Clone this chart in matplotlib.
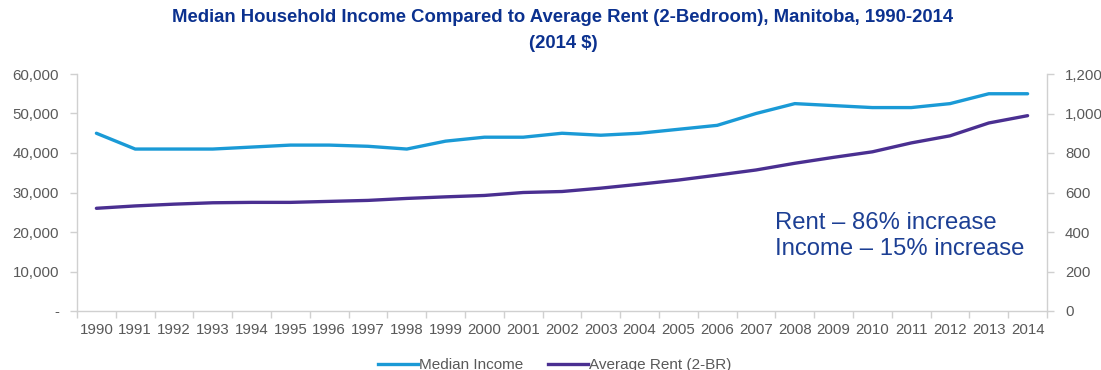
import matplotlib
matplotlib.use("Agg")
import matplotlib.pyplot as plt
from matplotlib.ticker import FuncFormatter, FixedLocator
from matplotlib.lines import Line2D

years = list(range(1990, 2015))
median_income = [45000, 41000, 41000, 41000, 41500, 42000, 42000, 41700, 41000, 43000,
                 44000, 44000, 45000, 44500, 45000, 46000, 47000, 50000, 52500, 52000,
                 51500, 51500, 52500, 55000, 55000]
avg_rent = [520, 532, 541, 548, 550, 550, 555, 560, 570, 578,
            585, 600, 605, 622, 642, 663, 688, 714, 748, 778,
            806, 851, 887, 952, 989]

title_l1 = "Median Household Income Compared to Average Rent (2-Bedroom), Manitoba, 1990-2014"
title_l2 = "(2014 $)"
note_l1 = "Rent \u2013 86% increase"
note_l2 = "Income \u2013 15% increase"

plt.rcParams['font.family'] = ['Liberation Sans', 'DejaVu Sans']

c_inc = '#1a9ad6'
c_rent = '#4a2f91'
c_title = '#0b318f'
c_tick = '#595959'
c_axis = '#d0d0d0'

fig = plt.figure(figsize=(11.01, 3.70), dpi=100)
ax = fig.add_axes([77/1101, 59/370, (1047-77)/1101, (311-74)/370])
ax2 = ax.twinx()

x = list(range(len(years)))
ax.plot(x, median_income, color=c_inc, lw=2.4, solid_capstyle='round', zorder=3)
ax2.plot(x, avg_rent, color=c_rent, lw=2.4, solid_capstyle='round', zorder=3)

ax.set_xlim(-0.5, len(years) - 0.5)
ax.set_ylim(0, 60000)
ax2.set_ylim(0, 1200)
ax.set_yticks(range(0, 60001, 10000))
ax2.set_yticks(range(0, 1201, 200))
ax.yaxis.set_major_formatter(FuncFormatter(lambda v, p: '-' if v == 0 else f'{int(v):,}'))
ax2.yaxis.set_major_formatter(FuncFormatter(lambda v, p: f'{int(v):,}'))

ax.xaxis.set_major_locator(FixedLocator([i - 0.5 for i in range(len(years) + 1)]))
ax.xaxis.set_minor_locator(FixedLocator(x))
ax.set_xticklabels([])
ax.set_xticklabels([str(y) for y in years], minor=True)
ax.tick_params(axis='x', which='major', length=5, color=c_axis, width=1)
ax.tick_params(axis='x', which='minor', length=0, pad=9, labelsize=10.8, labelcolor=c_tick)
ax.tick_params(axis='y', length=5, color=c_axis, width=1, labelsize=10.8, labelcolor=c_tick, pad=8)
ax2.tick_params(axis='y', length=5, color=c_axis, width=1, labelsize=10.8, labelcolor=c_tick, pad=8)

for a in (ax, ax2):
    a.spines['top'].set_visible(False)
    for s in ('left', 'right', 'bottom'):
        a.spines[s].set_color(c_axis)
        a.spines[s].set_linewidth(1)
ax.spines['right'].set_visible(False)
ax2.spines['left'].set_visible(False)
ax2.spines['bottom'].set_visible(False)

fig.text(563/1101, 1 - 17/370, title_l1, ha='center', va='center', fontsize=13.3,
         fontweight='bold', color=c_title)
fig.text(563/1101, 1 - 43/370, title_l2, ha='center', va='center', fontsize=13.3,
         fontweight='bold', color=c_title)

ax.text(0.7196, 0.316, note_l1 + "\n" + note_l2, transform=ax.transAxes, ha='left', va='center',
        fontsize=17.2, color='#1c3f94', linespacing=1.2)

handles = [Line2D([], [], color=c_inc, lw=2.4), Line2D([], [], color=c_rent, lw=2.4)]
fig.legend(handles, ['Median Income', 'Average Rent (2-BR)'], loc='center',
           bbox_to_anchor=(555/1101, 1 - 365/370), ncol=2, frameon=False, fontsize=11,
           handlelength=2.6, handletextpad=0.1, columnspacing=1.6, labelcolor=c_tick)

fig.savefig('out.png', dpi=100)
